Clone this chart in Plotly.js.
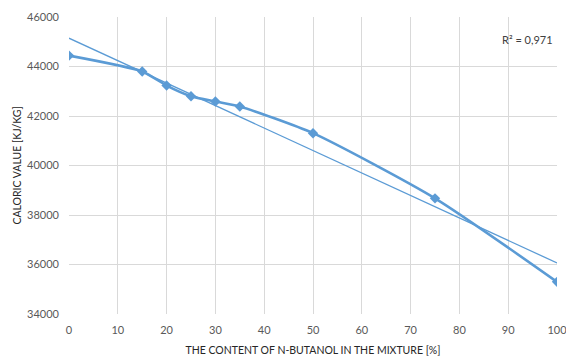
<!DOCTYPE html>
<html>
<head>
<meta charset="utf-8">
<script src="https://cdn.plot.ly/plotly-3.0.1.min.js"></script>
<style>
  html, body { margin: 0; padding: 0; background: #fff; }
  #chart { width: 566px; height: 356px; }
</style>
</head>
<body>
<div id="chart"></div>
<script>
// Share of n-butanol in the fuel mixture [%]
const butanolShare = [0, 15, 20, 25, 30, 35, 50, 75, 100];
// Measured caloric value [kJ/kg]
const caloricValue = [44440, 43800, 43230, 42800, 42585, 42383, 41306, 38673, 35298];
// Coefficient of determination of the linear trend
const rSquared = 0.971;
// Axis ticks
const xTicks = [0, 10, 20, 30, 40, 50, 60, 70, 80, 90, 100];
const yTicks = [34000, 36000, 38000, 40000, 42000, 44000, 46000];

// Least-squares linear trend through the measurements
function linearFit(xs, ys) {
  const n = xs.length;
  const mx = xs.reduce((a, b) => a + b, 0) / n;
  const my = ys.reduce((a, b) => a + b, 0) / n;
  let sxx = 0, sxy = 0;
  for (let i = 0; i < n; i++) {
    sxx += (xs[i] - mx) ** 2;
    sxy += (xs[i] - mx) * (ys[i] - my);
  }
  const slope = sxy / sxx;
  return { slope, intercept: my - slope * mx };
}
const fit = linearFit(butanolShare, caloricValue);
const trendX = [xTicks[0], xTicks[xTicks.length - 1]];
const trendY = trendX.map(x => fit.intercept + fit.slope * x);

const blue = '#5b9bd5';
const font = 'Lato, "Open Sans", sans-serif';

const traces = [
  {
    x: trendX, y: trendY, type: 'scatter', mode: 'lines',
    line: { color: blue, width: 1.3 }, hoverinfo: 'skip'
  },
  {
    x: butanolShare, y: caloricValue, type: 'scatter', mode: 'lines+markers',
    line: { color: blue, width: 2.6, shape: 'spline', smoothing: 0.6 },
    marker: { symbol: 'diamond', size: 8, color: blue }
  }
];

const axisCommon = {
  showline: false, zeroline: false,
  gridcolor: '#d9d9d9', gridwidth: 1,
  tickfont: { family: font, size: 11, color: '#595959' },
  ticks: '', fixedrange: true, ticklabeloverflow: 'allow'
};

const layout = {
  width: 566, height: 356,
  margin: { l: 69, r: 9, t: 17, b: 42 },
  paper_bgcolor: '#fff', plot_bgcolor: '#fff',
  showlegend: false,
  xaxis: Object.assign({}, axisCommon, {
    range: [0, 100], tickvals: xTicks, ticktext: xTicks.map(String),
    ticklabelstandoff: 8,
    title: { text: 'THE CONTENT OF N-BUTANOL IN THE MIXTURE [%]', font: { family: font, size: 10.5, color: '#262626' }, standoff: 12 }
  }),
  yaxis: Object.assign({}, axisCommon, {
    range: [34000, 46000], tickvals: yTicks, ticktext: yTicks.map(String),
    ticklabelstandoff: 9,
    title: { text: 'CALORIC VALUE [KJ/KG]', font: { family: font, size: 10.5, color: '#262626' }, standoff: 3 }
  }),
  annotations: [{
    xref: 'paper', yref: 'paper', x: 0.995, y: 0.925,
    xanchor: 'right', yanchor: 'middle', showarrow: false,
    text: 'R² = ' + rSquared.toFixed(3).replace('.', ','),
    font: { family: font, size: 11, color: '#404040' }
  }]
};

Plotly.newPlot('chart', traces, layout, { displayModeBar: false, staticPlot: true });
</script>
</body>
</html>
